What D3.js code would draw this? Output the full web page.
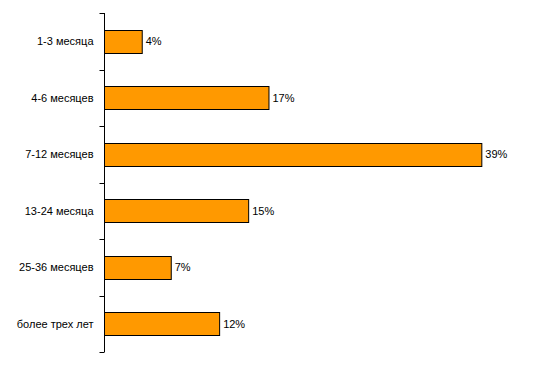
<!DOCTYPE html>
<html>
<head>
<meta charset="utf-8">
<script src="https://cdn.jsdelivr.net/npm/d3@7"></script>
<style>
  body { margin: 0; background: #fff; }
  text { font-family: "Liberation Sans", Arial, sans-serif; font-size: 11px; fill: #000; }
</style>
</head>
<body>
<div id="chart"></div>
<script>
	var categories = ["1-3 месяца", "4-6 месяцев", "7-12 месяцев", "13-24 месяца", "25-36 месяцев", "более трех лет"];
	var values = [3.9, 17.0, 39.0, 14.9, 6.9, 11.9];
	var valueLabels = ["4%", "17%", "39%", "15%", "7%", "12%"];

	var chartWidth = 554,
		chartHeight = 367,
		plotLeft = 104,
		plotTop = 13,
		plotBottom = 352;

	var svg = d3.select("#chart").append("svg")
		.attr("width", chartWidth)
		.attr("height", chartHeight);

	var x = d3.scaleLinear().domain([0, 40]).range([plotLeft, 491]);
	var y = d3.scaleBand().domain(categories).range([plotTop, plotBottom]).paddingInner(0.6).paddingOuter(0.3);

	// bars
	svg.selectAll("rect.bar")
		.data(values)
		.enter().append("rect")
			.attr("class", "bar")
			.attr("x", x(0) + 0.5)
			.attr("y", function(d, i) { return Math.round(y(categories[i])) + 0.5; })
			.attr("width", function(d) { return x(d) - x(0); })
			.attr("height", Math.round(y.bandwidth()))
			.attr("fill", "#FF9900")
			.attr("stroke", "#000")
			.attr("stroke-width", 1);

	// value labels
	svg.selectAll("text.val")
		.data(values)
		.enter().append("text")
			.attr("class", "val")
			.attr("x", function(d) { return x(d) + 4; })
			.attr("y", function(d, i) { return y(categories[i]) + y.bandwidth() / 2; })
			.attr("dy", ".35em")
			.text(function(d, i) { return valueLabels[i]; });

	// category axis, ticks between bands
	var axis = svg.append("g").attr("transform", "translate(" + (plotLeft + 0.5) + ",0)");
	axis.append("line")
		.attr("y1", plotTop).attr("y2", plotBottom)
		.attr("stroke", "#000");

	var step = (plotBottom - plotTop) / categories.length;
	var tickPos = d3.range(categories.length + 1).map(function(i) { return Math.round(plotTop + i * step) + 0.5; });
	axis.selectAll("line.tick")
		.data(tickPos)
		.enter().append("line")
			.attr("class", "tick")
			.attr("x1", -5).attr("x2", 0)
			.attr("y1", function(d) { return d; })
			.attr("y2", function(d) { return d; })
			.attr("stroke", "#000");

	axis.selectAll("text.cat")
		.data(categories)
		.enter().append("text")
			.attr("class", "cat")
			.attr("x", -11)
			.attr("y", function(d) { return y(d) + y.bandwidth() / 2; })
			.attr("dy", ".35em")
			.attr("text-anchor", "end")
			.text(function(d) { return d; });
</script>
</body>
</html>
